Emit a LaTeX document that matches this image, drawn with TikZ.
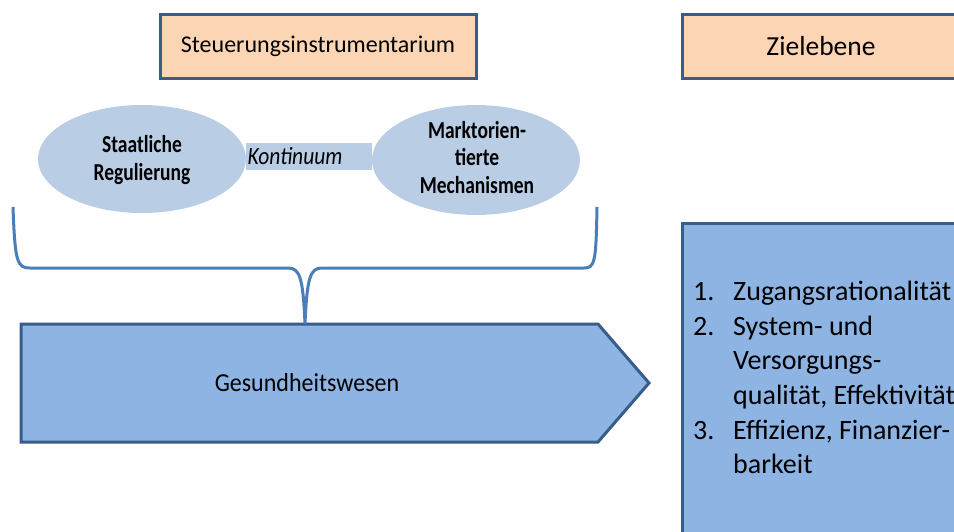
\documentclass[tikz,border=0pt]{standalone}
\usepackage{fontspec}
\usepackage{graphicx}
\setmainfont{Carlito}
\usetikzlibrary{shapes.geometric}
\definecolor{frameblue}{HTML}{385D8A}
\definecolor{peach}{HTML}{FCD5B5}
\definecolor{lightblue}{HTML}{B9CDE5}
\definecolor{midblue}{HTML}{8EB4E3}
\definecolor{braceblue}{HTML}{4A7EBB}
% taller-than-wide lettering used inside the ovals
\newcommand\tallstack[2]{\scalebox{1}[#1]{\begin{tabular}{@{}c@{}}#2\end{tabular}}}
\tikzset{
  headbox/.style={draw=frameblue, fill=peach, line width=3pt, inner sep=0pt},
  bluebox/.style={draw=frameblue, fill=midblue, line width=3pt},
  oval/.style={ellipse, fill=lightblue, inner sep=0pt},
  ovaltxt/.style={inner sep=0pt, font=\fontsize{19.5}{21.8}\bfseries\selectfont},
  brace/.style={draw=braceblue, line width=3pt},
  listtxt/.style={anchor=base west, inner sep=0pt, font=\fontsize{28}{34}\selectfont}
}
\begin{document}
\begin{tikzpicture}[x=1pt,y=-1pt]
\useasboundingbox (0,0) rectangle (954,531);
\clip (0,0) rectangle (954,531);
\fill[white] (0,0) rectangle (954,531);

% header boxes
\node[headbox, minimum width=316pt, minimum height=64pt,
  font=\fontsize{24}{28}\selectfont] (steu) at (318,46) {Steuerungsinstrumentarium};
\node[headbox, minimum width=300pt, minimum height=64pt] (ziel) at (832,46) {};
\node[font=\fontsize{27.5}{32}\selectfont] (zieltxt) at (821,46) {Zielebene};

% continuum between the two control modes
\node[oval, minimum width=208pt, minimum height=108pt] (staat) at (142,159) {};
\node[oval, minimum width=208pt, minimum height=110pt] (markt) at (476,160) {};
\draw[lightblue, line width=27pt] ([yshift=2.5pt]staat.east) -- ([yshift=3.5pt]markt.west);
\node[ovaltxt] (staattxt) at (142,161) {\tallstack{1.25}{Staatliche\\Regulierung}};
\node[ovaltxt] (markttxt) at (477,160.5) {\tallstack{1.25}{Marktorien-\\tierte\\Mechanismen}};
\node[inner sep=0pt, font=\fontsize{21.5}{24}\itshape\selectfont] (kont) at (295,156)
  {\scalebox{1}[1.15]{Kontinuum}};

% health system arrow
\draw[bluebox] (21,324) -- (598,324) -- (649,383) -- (598,442) -- (21,442) -- cycle;
\coordinate (tip) at (305,324);
\node[font=\fontsize{24}{28}\selectfont] (gw) at (307,383) {\scalebox{1}[1.08]{Gesundheitswesen}};

% brace gathering both modes
\draw[brace] (13,207) .. controls (15,262) and (17,268) .. (30,268)
  -- (288,268) .. controls (300,268) and (303,278) .. (tip)
  .. controls (307,278) and (310,268) .. (322,268)
  -- (584,268) .. controls (595,268) and (596,262) .. (597,207);

% target levels
\draw[bluebox] (682,223) rectangle (975,545);
\node[listtxt] at (693,300) {1.};
\node[listtxt] at (733,300) {Zugangsrationalität};
\node[listtxt] at (693,335) {2.};
\node[listtxt] at (733,335) {System- und};
\node[listtxt] at (733,369) {Versorgungs-};
\node[listtxt] at (733,404) {qualität, Effektivität};
\node[listtxt] at (693,439) {3.};
\node[listtxt] at (733,439) {Effizienz, Finanzier-};
\node[listtxt] at (733,473) {barkeit};
\end{tikzpicture}
\end{document}
